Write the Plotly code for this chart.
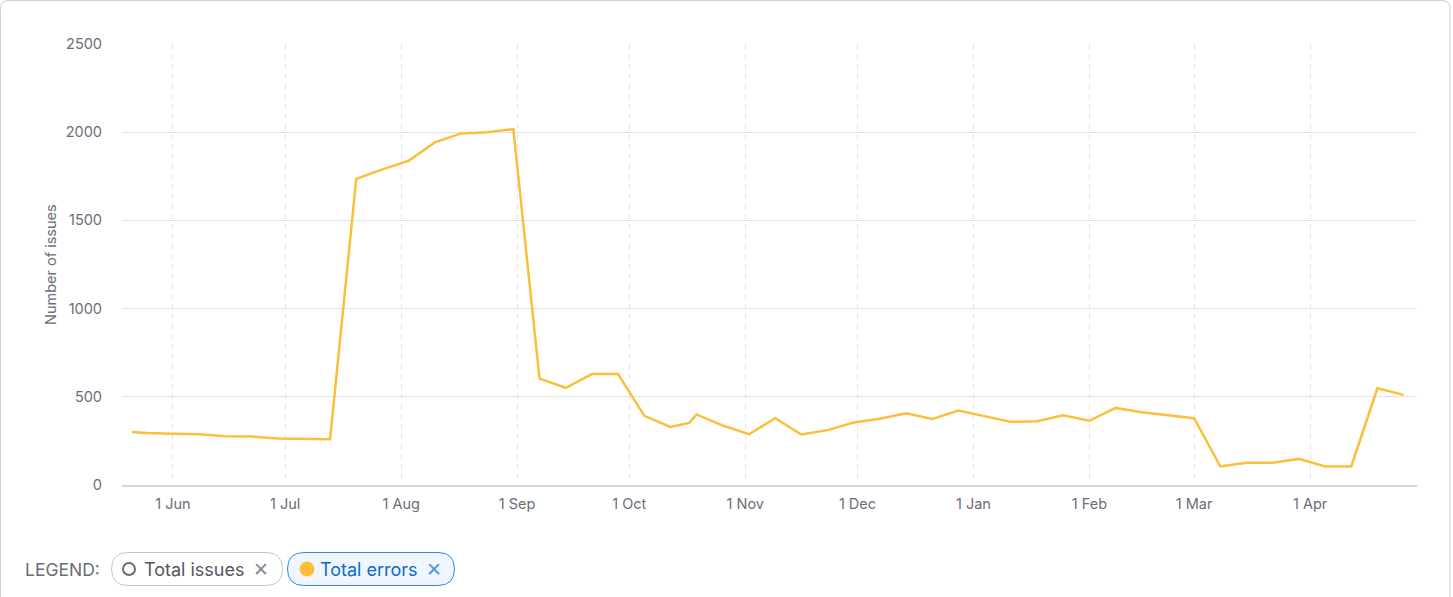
import plotly.graph_objects as go

# ---------------- data ----------------
dates = [
    "2022-05-21", "2022-05-25", "2022-06-01", "2022-06-08", "2022-06-15", "2022-06-22",
    "2022-06-29", "2022-07-06", "2022-07-13", "2022-07-20", "2022-07-27", "2022-08-03",
    "2022-08-10", "2022-08-17", "2022-08-24", "2022-08-31", "2022-09-07", "2022-09-14",
    "2022-09-21", "2022-09-28", "2022-10-05", "2022-10-12", "2022-10-17", "2022-10-19",
    "2022-10-26", "2022-11-02", "2022-11-09", "2022-11-16", "2022-11-23", "2022-11-30",
    "2022-12-07", "2022-12-14", "2022-12-21", "2022-12-28", "2023-01-04", "2023-01-11",
    "2023-01-18", "2023-01-25", "2023-02-01", "2023-02-08", "2023-02-15", "2023-02-22",
    "2023-03-01", "2023-03-08", "2023-03-15", "2023-03-22", "2023-03-29", "2023-04-05",
    "2023-04-12", "2023-04-19", "2023-04-26",
]
total_errors = [
    301, 295, 291, 288, 277, 275,
    263, 263, 260, 1735, 1789, 1838,
    1942, 1993, 2000, 2017, 603, 551,
    629, 629, 392, 329, 352, 400,
    337, 288, 379, 286, 311, 354,
    376, 407, 375, 422, 390, 358,
    362, 395, 364, 437, 413, 396,
    379, 105, 126, 126, 148, 105,
    105, 548, 511,
]
tick_vals = [
    "2022-06-01", "2022-07-01", "2022-08-01", "2022-09-01", "2022-10-01", "2022-11-01",
    "2022-12-01", "2023-01-01", "2023-02-01", "2023-03-01", "2023-04-01",
]
tick_text = ["1 Jun", "1 Jul", "1 Aug", "1 Sep", "1 Oct", "1 Nov",
             "1 Dec", "1 Jan", "1 Feb", "1 Mar", "1 Apr"]
y_ticks = [0, 500, 1000, 1500, 2000, 2500]
legend_labels = ["Total issues", "Total errors"]

# ---------------- layout helpers ----------------
W, H = 1453, 597
L, R, T, B = 122, 1417, 44, 485
FONT = "Inter, Roboto, 'Open Sans', sans-serif"
GRAY_TXT = "#6b6d7a"


def px(x):
    return (x - L) / (R - L)


def py(y):
    return (B - y) / (B - T)


def rrect_path(x0, y0, x1, y1, r):
    pts = [
        ("M", (x0 + r, y0)),
        ("L", (x1 - r, y0)),
        ("Q", (x1, y0), (x1, y0 + r)),
        ("L", (x1, y1 - r)),
        ("Q", (x1, y1), (x1 - r, y1)),
        ("L", (x0 + r, y1)),
        ("Q", (x0, y1), (x0, y1 - r)),
        ("L", (x0, y0 + r)),
        ("Q", (x0, y0), (x0 + r, y0)),
    ]
    s = ""
    for p in pts:
        cmd = p[0]
        coords = " ".join(f"{px(a):.6f},{py(b):.6f}" for a, b in p[1:])
        s += f"{cmd} {coords} "
    return s + "Z"


fig = go.Figure()
fig.add_trace(go.Scatter(
    x=dates, y=total_errors, mode="lines", name=legend_labels[1],
    line=dict(color="#fbbf3a", width=2.5), hoverinfo="skip",
))

shapes = []
# card border (top with rounded corners)
r = 8
card = (f"M {px(0.5):.6f},{py(620):.6f} L {px(0.5):.6f},{py(0.5 + r):.6f} "
        f"Q {px(0.5):.6f},{py(0.5):.6f} {px(0.5 + r):.6f},{py(0.5):.6f} "
        f"L {px(1450 - r):.6f},{py(0.5):.6f} "
        f"Q {px(1450):.6f},{py(0.5):.6f} {px(1450):.6f},{py(0.5 + r):.6f} "
        f"L {px(1450):.6f},{py(620):.6f}")
shapes.append(dict(type="path", xref="paper", yref="paper", path=card,
                   line=dict(color="#cdd0db", width=1)))
# legend pills
shapes.append(dict(type="path", xref="paper", yref="paper",
                   path=rrect_path(111.5, 552.5, 282.5, 585.5, 16.5),
                   line=dict(color="#c4c6d0", width=1), fillcolor="white"))
shapes.append(dict(type="path", xref="paper", yref="paper",
                   path=rrect_path(287.5, 552.5, 454.5, 585.5, 16.5),
                   line=dict(color="#2b8ae6", width=1), fillcolor="#eff6ff"))
# hollow circle (Total issues)
cx, cy, cr = 129, 569, 6
shapes.append(dict(type="circle", xref="paper", yref="paper",
                   x0=px(cx - cr), x1=px(cx + cr), y0=py(cy + cr), y1=py(cy - cr),
                   line=dict(color=GRAY_TXT, width=2), fillcolor="white"))
# filled circle (Total errors)
cx, cy, cr = 307, 569, 7.5
shapes.append(dict(type="circle", xref="paper", yref="paper",
                   x0=px(cx - cr), x1=px(cx + cr), y0=py(cy + cr), y1=py(cy - cr),
                   line=dict(color="#fbbf3a", width=0), fillcolor="#fbbf3a"))

annotations = [
    dict(text="Number of issues", textangle=-90, x=px(50), y=py(265),
         xref="paper", yref="paper", showarrow=False,
         xanchor="center", yanchor="middle",
         font=dict(family=FONT, size=14.5, color=GRAY_TXT)),
    dict(text="LEGEND:", x=px(23), y=py(569), xref="paper", yref="paper",
         xanchor="left", yanchor="middle", showarrow=False,
         font=dict(family=FONT, size=17.5, color=GRAY_TXT)),
    dict(text=legend_labels[0], x=px(142), y=py(569), xref="paper", yref="paper",
         xanchor="left", yanchor="middle", showarrow=False,
         font=dict(family=FONT, size=18, color="#55575f")),
    dict(text="✕", x=px(261), y=py(569), xref="paper", yref="paper",
         xanchor="center", yanchor="middle",
         showarrow=False, font=dict(family=FONT, size=19, color="#8a8c98")),
    dict(text=legend_labels[1], x=px(318), y=py(569), xref="paper", yref="paper",
         xanchor="left", yanchor="middle", showarrow=False,
         font=dict(family=FONT, size=18, color="#0b6bcb")),
    dict(text="✕", x=px(434), y=py(569), xref="paper", yref="paper",
         xanchor="center", yanchor="middle",
         showarrow=False, font=dict(family=FONT, size=19, color="#4f97e0")),
]

fig.update_layout(
    width=W, height=H,
    margin=dict(l=L, r=W - R, t=T, b=H - B, pad=0),
    paper_bgcolor="white", plot_bgcolor="white",
    showlegend=False,
    font=dict(family=FONT, size=14.5, color=GRAY_TXT),
    shapes=shapes, annotations=annotations,
    xaxis=dict(
        range=["2022-05-18 09:00", "2023-04-29 14:00"],
        tickvals=tick_vals, ticktext=tick_text,
        showgrid=True, gridcolor="#e2e3e8", griddash="5px,5px", gridwidth=1,
        showline=True, linecolor="#d4d5dd", linewidth=2,
        ticks="", ticklabelstandoff=5, zeroline=False,
        tickfont=dict(family=FONT, size=14.5, color=GRAY_TXT),
    ),
    yaxis=dict(
        range=[0, 2500], tickvals=y_ticks,
        showgrid=True, gridcolor="#e2e3e8", gridwidth=1,
        zeroline=False, showline=False,
        ticks="", ticklabelstandoff=19,
        tickfont=dict(family=FONT, size=14.5, color=GRAY_TXT),
    ),
)

fig.write_html("out.html", config={"displayModeBar": False},
               post_script="document.body.style.margin='0';")
